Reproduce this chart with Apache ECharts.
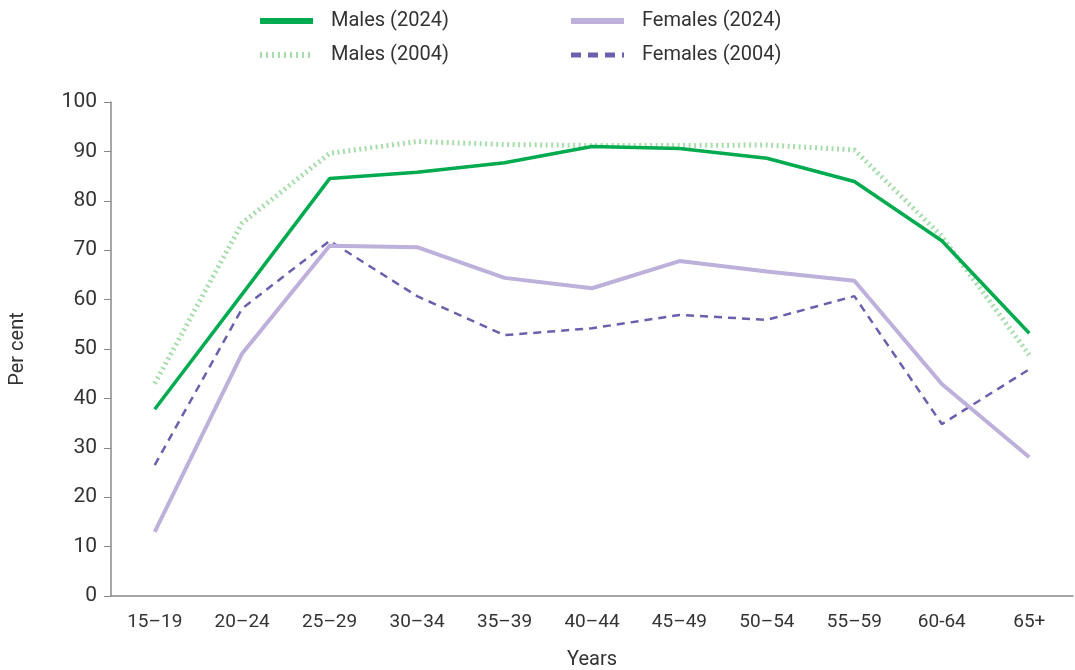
<!DOCTYPE html>
<html>
<head>
<meta charset="utf-8">
<script src="https://cdn.jsdelivr.net/npm/echarts@6/dist/echarts.min.js"></script>
<style>
html,body{margin:0;padding:0;background:#fff;}
#chart{width:1075px;height:670px;}
</style>
</head>
<body>
<div id="chart"></div>
<script>
const categories = ['15–19','20–24','25–29','30–34','35–39','40–44','45–49','50–54','55–59','60-64','65+'];
const males2024 = [37.8, 61.1, 84.5, 85.8, 87.7, 91.0, 90.6, 88.6, 83.9, 71.9, 53.2];
const males2004 = [43.0, 75.5, 89.6, 92.0, 91.4, 91.2, 91.2, 91.3, 90.3, 72.8, 48.8];
const females2024 = [13.0, 49.1, 70.9, 70.6, 64.4, 62.3, 67.8, 65.7, 63.8, 42.9, 28.1];
const females2004 = [26.5, 58.2, 71.9, 60.7, 52.8, 54.2, 56.9, 55.9, 60.7, 34.8, 45.9];
const yTicks = [0, 10, 20, 30, 40, 50, 60, 70, 80, 90, 100];

const FONT = 'Roboto';
const chart = echarts.init(document.getElementById('chart'));
const legendText = {fontFamily: FONT, fontSize: 20, color: '#333', padding: [0, 0, 0, 13]};
const legendCommon = {
  orient: 'vertical', top: 11, padding: 0, itemWidth: 53, itemHeight: 14, itemGap: 14,
  textStyle: legendText, itemStyle: {opacity: 0}
};
chart.setOption({
  animation: false,
  textStyle: {fontFamily: FONT},
  grid: {left: 111, right: 2, top: 102, bottom: 74, containLabel: false, outerBoundsMode: 'none'},
  legend: [
    Object.assign({}, legendCommon, {
      left: 257,
      data: [
        {name: 'Males (2024)', lineStyle: {width: 6}},
        {name: 'Males (2004)', lineStyle: {width: 6, type: [2, 4]}}
      ]
    }),
    Object.assign({}, legendCommon, {
      left: 568,
      data: [
        {name: 'Females (2024)', lineStyle: {width: 6}},
        {name: 'Females (2004)', lineStyle: {width: 5, type: [10, 7]}}
      ]
    })
  ],
  xAxis: {
    type: 'category', data: categories, boundaryGap: true,
    name: 'Years', nameLocation: 'middle', nameGap: 54,
    nameTextStyle: {fontFamily: FONT, fontSize: 20, color: '#333'},
    axisLine: {lineStyle: {color: '#888', width: 1.5}},
    axisTick: {show: false},
    axisLabel: {fontFamily: FONT, fontSize: 19, color: '#333', margin: 17, interval: 0}
  },
  yAxis: {
    type: 'value', min: 0, max: 100, interval: 10,
    name: 'Per cent', nameLocation: 'middle', nameGap: 83,
    nameTextStyle: {fontFamily: FONT, fontSize: 20, color: '#333'},
    axisLine: {show: true, lineStyle: {color: '#888', width: 1.5}},
    axisTick: {show: true, length: 7, lineStyle: {color: '#888'}},
    splitLine: {show: false},
    axisLabel: {fontFamily: FONT, fontSize: 21, color: '#333', margin: 14,
      formatter: v => yTicks.includes(v) ? String(v) : ''}
  },
  series: [
    {name: 'Males (2004)', type: 'line', data: males2004, symbol: 'none', z: 1,
     lineStyle: {color: '#a8dcac', width: 5, type: [2, 3.5]}, itemStyle: {color: '#a8dcac'}},
    {name: 'Females (2004)', type: 'line', data: females2004, symbol: 'none', z: 2,
     lineStyle: {color: '#6c5fae', width: 2.5, type: [8, 6]}, itemStyle: {color: '#6c5fae'}},
    {name: 'Females (2024)', type: 'line', data: females2024, symbol: 'none', z: 3,
     lineStyle: {color: '#bdb0da', width: 4}, itemStyle: {color: '#bdb0da'}},
    {name: 'Males (2024)', type: 'line', data: males2024, symbol: 'none', z: 4,
     lineStyle: {color: '#00aa4f', width: 3.5}, itemStyle: {color: '#00aa4f'}}
  ]
});
</script>
</body>
</html>
